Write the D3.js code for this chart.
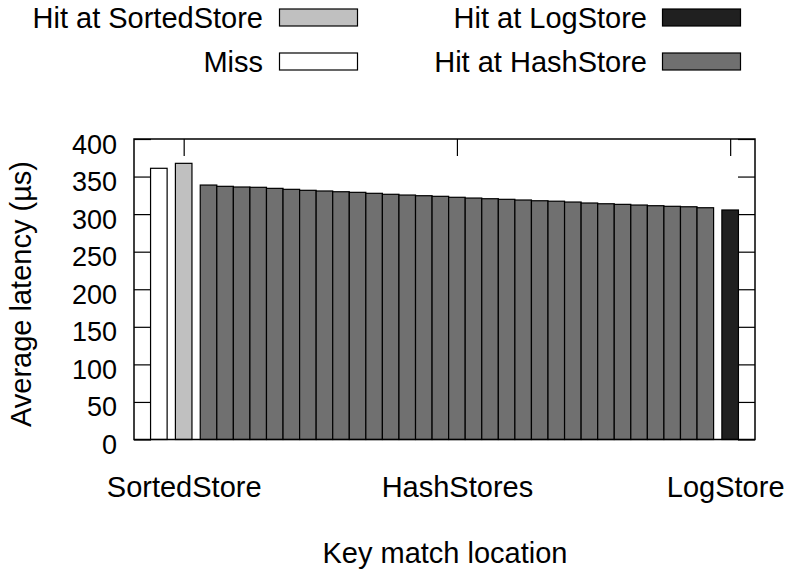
<!DOCTYPE html>
<html>
<head>
<meta charset="utf-8">
<script src="https://cdn.jsdelivr.net/npm/d3@7"></script>
<style>
body { margin: 0; background: #fff; }
svg text { font-family: "Liberation Sans", Arial, sans-serif; fill: #000; }
</style>
</head>
<body>
<div id="chart"></div>
<script>
var width = 788;
var height = 569;

// values (µs)
var missLatency = [361];
var sortedLatency = [367.6];
var hashLatency = [338.7, 337.0, 336.1, 335.7, 334.3, 333.0, 331.7, 330.8, 329.8, 329.0,
                   327.7, 326.4, 325.4, 324.5, 323.7, 322.4, 321.4, 320.5, 319.7, 318.8,
                   317.8, 317.2, 316.1, 314.8, 313.8, 313.0, 312.1, 311.2, 310.4, 309.8, 308.5];
var logLatency = [305.5];

var categories = ['SortedStore', 'HashStores', 'LogStore'];
var yTicks = [0, 50, 100, 150, 200, 250, 300, 350, 400];

var legendLeft = [
    {label: 'Hit at SortedStore', fill: '#c0c0c0'},
    {label: 'Miss', fill: '#ffffff'}
];
var legendRight = [
    {label: 'Hit at LogStore', fill: '#202020'},
    {label: 'Hit at HashStore', fill: '#707070'}
];

var groups = [
    {name: 'miss', values: missLatency, fill: '#ffffff'},
    {name: 'sorted', values: sortedLatency, fill: '#c0c0c0'},
    {name: 'hash', values: hashLatency, fill: '#707070'},
    {name: 'log', values: logLatency, fill: '#202020'}
];

//lay the bars out one slot apart, with an extra half slot between groups
var bars = [];
var pos = -1.5;
groups.forEach(function (g) {
    pos += 0.5;
    g.first = pos + 1;
    g.values.forEach(function (v) {
        pos += 1;
        bars.push({group: g.name, pos: pos, value: v, fill: g.fill});
    });
    g.last = pos;
});

//category ticks sit at the SortedStore bar, the middle of the HashStores and the LogStore bar
var catPos = [groups[1].first, (groups[2].first + groups[2].last) / 2, groups[3].first];

var plot = {left: 134, right: 755, top: 139, bottom: 439.5};

var x = d3.scaleLinear()
    .domain([-1.5, pos + 1.5])
    .range([plot.left, plot.right]);

var y = d3.scaleLinear()
    .domain([0, 400])
    .range([plot.bottom, plot.top]);

var svg = d3.select('#chart').append('svg')
    .attr('width', width)
    .attr('height', height);

/* axes, ticks pointing inward like gnuplot */
var tickLen = 17;

var yAxis = svg.append('g')
    .attr('transform', 'translate(' + plot.left + ',0)')
    .call(d3.axisLeft(y).tickValues(yTicks).tickSize(-tickLen).tickPadding(17));
yAxis.selectAll('text')
    .attr('dy', '0.52em')
    .style('font-size', '27px')
    .style('font-family', '"Liberation Sans", Arial, sans-serif');

svg.append('g')
    .attr('transform', 'translate(' + plot.right + ',0)')
    .call(d3.axisRight(y).tickValues(yTicks).tickSize(-tickLen).tickFormat(''));

svg.append('g')
    .attr('transform', 'translate(0,' + plot.top + ')')
    .call(d3.axisTop(x).tickValues(catPos).tickSize(-tickLen).tickFormat(''));

var xAxis = svg.append('g')
    .attr('transform', 'translate(0,' + plot.bottom + ')')
    .call(d3.axisBottom(x).tickValues(catPos).tickSize(-tickLen)
        .tickFormat(function (d, i) { return categories[i]; }));
xAxis.selectAll('text')
    .attr('y', 57.5)
    .attr('dy', 0)
    .attr('x', function (d, i) { return i === categories.length - 1 ? -5 : 0; }) //keep LogStore inside the page
    .style('font-size', '29px')
    .style('font-family', '"Liberation Sans", Arial, sans-serif');

svg.selectAll('.domain').remove();
svg.selectAll('.tick line').attr('stroke', '#000').attr('stroke-width', 1.2);

/* bars */
var bw = x(0.5) - x(-0.5);
svg.append('g').selectAll('rect')
    .data(bars)
    .enter().append('rect')
    .attr('x', function (d) { return x(d.pos) - bw / 2; })
    .attr('y', function (d) { return y(d.value); })
    .attr('width', bw)
    .attr('height', function (d) { return y(0) - y(d.value); })
    .attr('fill', function (d) { return d.fill; })
    .attr('stroke', '#000')
    .attr('stroke-width', 1.2);

/* frame */
svg.append('rect')
    .attr('x', plot.left)
    .attr('y', plot.top)
    .attr('width', plot.right - plot.left)
    .attr('height', plot.bottom - plot.top)
    .attr('fill', 'none')
    .attr('stroke', '#000')
    .attr('stroke-width', 1.5);

/* axis titles */
svg.append('text')
    .attr('transform', 'translate(31,294) rotate(-90)')
    .attr('text-anchor', 'middle')
    .style('font-size', '29px')
    .text('Average latency (µs)');

svg.append('text')
    .attr('x', 445)
    .attr('y', 563)
    .attr('text-anchor', 'middle')
    .style('font-size', '29px')
    .text('Key match location');

/* legend: two columns, label right-aligned before its swatch */
function drawLegend(items, textRight, boxX) {
    var g = svg.append('g');
    var row = g.selectAll('g')
        .data(items)
        .enter().append('g')
        .attr('transform', function (d, i) { return 'translate(0,' + (i * 44) + ')'; });
    row.append('text')
        .attr('x', textRight)
        .attr('y', 28)
        .attr('text-anchor', 'end')
        .style('font-size', '29px')
        .text(function (d) { return d.label; });
    row.append('rect')
        .attr('x', boxX)
        .attr('y', 9)
        .attr('width', 78)
        .attr('height', 17)
        .attr('fill', function (d) { return d.fill; })
        .attr('stroke', '#000')
        .attr('stroke-width', 1.2);
}

drawLegend(legendLeft, 263, 279.5);
drawLegend(legendRight, 647, 662.5);
</script>
</body>
</html>
